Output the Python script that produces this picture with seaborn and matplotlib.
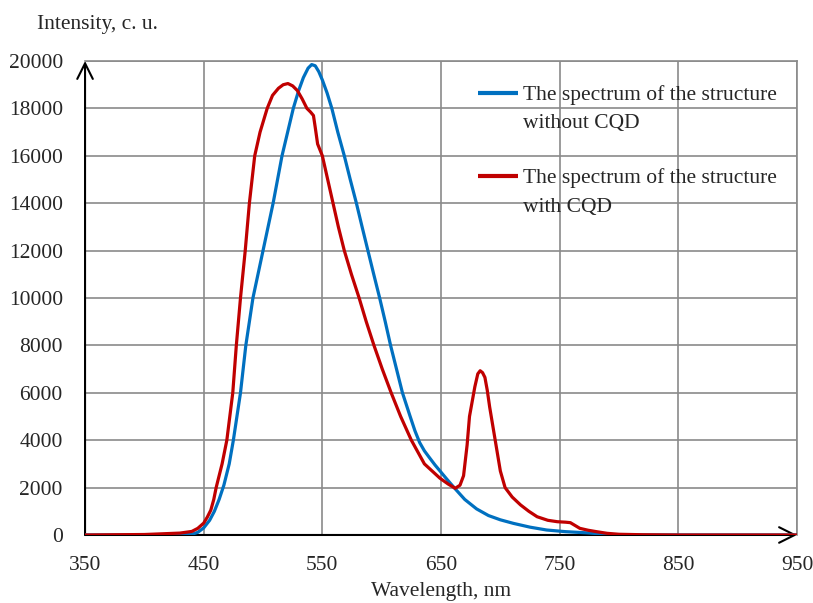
import matplotlib
matplotlib.use("Agg")
import matplotlib.pyplot as plt
import pandas as pd
import seaborn as sns

# Emission spectrum of the structure without CQD
wl_without = [350, 400, 430, 440, 445, 450, 455, 459, 463, 467, 471.5, 475,
              478, 481, 485.5, 491.5, 500, 508.5, 516, 525.5, 530, 534, 538,
              541, 544, 547, 550, 554, 558, 563, 568.5, 573.5, 578.7, 583.5,
              588.4, 593.3, 598.3, 603, 607.5, 612.5, 617.5, 624, 628, 632, 636,
              640, 645, 650, 655, 661, 670, 680, 690, 700, 711, 725, 739, 755,
              773, 790, 800, 850, 900, 950]
int_without = [0, 0, 0, 30, 110, 300, 620, 1000, 1500, 2100, 3000, 4000, 5000,
               6000, 8000, 10000, 12000, 14000, 16000, 18000, 18750, 19300,
               19700, 19850, 19800, 19550, 19200, 18650, 18000, 17000, 16000,
               15000, 14000, 13000, 12000, 11000, 10000, 9000, 8000, 7000, 6000,
               5000, 4400, 3900, 3550, 3280, 2950, 2650, 2350, 2000, 1500, 1100,
               820, 640, 490, 330, 210, 140, 90, 30, 0, 0, 0, 0]

# Emission spectrum of the structure with CQD
wl_with = [350, 400, 430, 440, 445, 450, 453, 456, 458.5, 460.5, 463, 465.5,
           469.5, 474.5, 477.5, 481, 485, 488.5, 493, 497.5, 503.5, 508, 513,
           517, 521, 525, 529, 533, 537, 540, 542.5, 544, 546, 550, 554.5, 559,
           563.5, 568.5, 574.5, 581, 587, 593.5, 600.5, 608, 616, 625, 636, 649,
           656, 662, 666, 669, 672, 674, 678.5, 681, 683, 685, 687, 689, 691,
           694, 697, 700, 704, 710, 717, 724, 731, 740, 748, 755, 759, 763,
           767, 774, 781, 790, 800, 820, 850, 900, 950]
int_with = [0, 20, 80, 150, 280, 500, 750, 1050, 1500, 2000, 2500, 3000, 4000,
            6000, 8000, 10000, 12000, 14000, 16000, 17000, 18000, 18550, 18850,
            19000, 19050, 18950, 18750, 18400, 18000, 17850, 17700, 17200,
            16500, 16000, 15000, 14000, 13000, 12000, 11000, 10000, 9000, 8000,
            7000, 6000, 5000, 4000, 3000, 2400, 2150, 1970, 2100, 2500, 3800,
            5000, 6250, 6800, 6930, 6850, 6650, 6100, 5400, 4500, 3600, 2700,
            2000, 1600, 1270, 1000, 770, 620, 560, 540, 520, 400, 280, 200, 140,
            70, 30, 10, 0, 0, 0]

label_without = "The spectrum of the structure\nwithout CQD"
label_with = "The spectrum of the structure\nwith CQD"
colors = {label_without: "#0070C0", label_with: "#C00000"}

x_ticks = [350, 450, 550, 650, 750, 850, 950]
y_ticks = list(range(0, 20001, 2000))

df = pd.concat([
    pd.DataFrame({"Wavelength": wl_without, "Intensity": int_without,
                  "Series": label_without}),
    pd.DataFrame({"Wavelength": wl_with, "Intensity": int_with,
                  "Series": label_with}),
], ignore_index=True)

sns.set_style("white")
plt.rcParams["font.family"] = ["Liberation Serif", "DejaVu Serif"]
FS = 15.5
plt.rcParams["font.size"] = FS

fig = plt.figure(figsize=(8.13, 6.03), dpi=100)
ax = fig.add_axes([0.1046, 0.1128, 0.8757, 0.786])

sns.lineplot(data=df, x="Wavelength", y="Intensity", hue="Series",
             palette=colors, estimator=None, sort=False, linewidth=2.3,
             legend=False, ax=ax, zorder=3, solid_joinstyle="round")

ax.set_xlim(350, 950)
ax.set_ylim(0, 20000)
ax.set_xticks(x_ticks)
ax.set_yticks(y_ticks)
ax.set_xticklabels([str(t) for t in x_ticks])
ax.set_yticklabels([str(t) for t in y_ticks])
ax.grid(True, color="#8a8a8a", linewidth=1.2)
ax.set_axisbelow(True)

for side in ("left", "bottom"):
    ax.spines[side].set_visible(False)
for side in ("top", "right"):
    ax.spines[side].set_color("#8a8a8a")
    ax.spines[side].set_linewidth(1.2)

ax.tick_params(axis="both", direction="out", length=6, width=1.2,
               color="black", labelsize=FS)
ax.tick_params(axis="y", pad=10)
ax.tick_params(axis="x", pad=9)

# Axis lines with open arrowheads
arrow = dict(arrowstyle="->", color="black", lw=1.5, mutation_scale=28,
             shrinkA=0, shrinkB=0)
ax.annotate("", xy=(0, 1.0), xytext=(0, 0), xycoords="axes fraction",
            textcoords="axes fraction", arrowprops=arrow, zorder=2.5,
            annotation_clip=False)
ax.annotate("", xy=(1.0, 0), xytext=(0, 0), xycoords="axes fraction",
            textcoords="axes fraction", arrowprops=arrow, zorder=2.5,
            annotation_clip=False)

ax.set_xlabel("Wavelength, nm", fontsize=FS, labelpad=5)
ax.set_ylabel("")
fig.text(37 / 813, 1 - 29 / 603, "Intensity, c. u.", fontsize=FS,
         ha="left", va="baseline")

# Legend: swatch beside the first line of each two-line label
entries = [(label_without, 0.9319, 0.9177, 0.858),
           (label_with, 0.7574, 0.742, 0.682)]
for lab, y_line, y_t1, y_t2 in entries:
    ax.plot([0.552, 0.608], [y_line, y_line], transform=ax.transAxes,
            color=colors[lab], lw=3, solid_capstyle="butt", zorder=4)
    first, second = lab.split("\n")
    ax.text(0.615, y_t1, first, transform=ax.transAxes, fontsize=FS,
            ha="left", va="baseline", zorder=5)
    ax.text(0.615, y_t2, second, transform=ax.transAxes, fontsize=FS,
            ha="left", va="baseline", zorder=5)

fig.savefig("out.png", dpi=100)
